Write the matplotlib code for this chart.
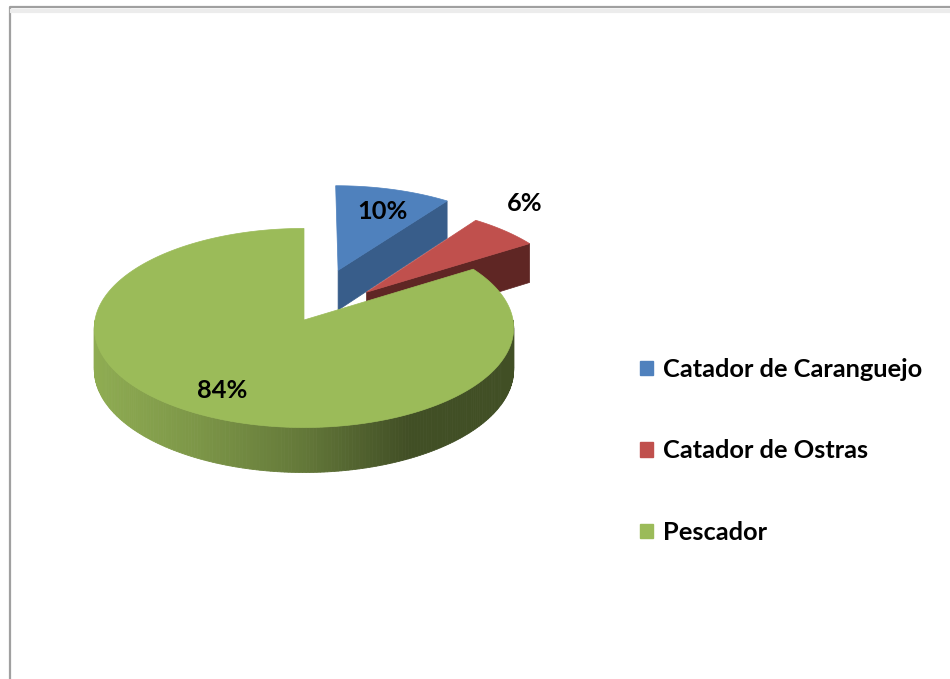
import numpy as np
import matplotlib
matplotlib.use("Agg")
import matplotlib.pyplot as plt
from matplotlib.patches import Polygon, Patch
from matplotlib.lines import Line2D
from matplotlib.colors import to_rgb

# ---- data ----
categories = ["Catador de Caranguejo", "Catador de Ostras", "Pescador"]
values = [10, 6, 84]

# ---- style ----
top_colors = ["#4f81bd", "#c0504d", "#9bbb59"]
face_colors = ["#385d8a", "#5f2624", "#4a5c2b"]
explode = [0.55, 0.42, 0.0]
label_radius = [0.72, 1.0, 0.77]
label_offset = [(4, 0), (20, -27), (0, 0)]

W, H = 950, 679
fig = plt.figure(figsize=(9.5, 6.79), dpi=100)
ax = fig.add_axes([0, 0, 1, 1])
ax.set_xlim(0, W)
ax.set_ylim(H, 0)
ax.axis("off")

CX, CY, RA, RB, DEPTH, PERSP = 304, 320, 209, 98.9, 41.4, 0.08
FONT = "Lato"
FS = 18.3


def proj(X, Y, z):
    s = 1.0 / (1.0 + PERSP * Y)
    return CX + RA * X * s, CY - RB * Y * s + DEPTH * z * s


def shade(rgb, f):
    return tuple(min(1, c * f) for c in rgb)


def wall_factor(u):
    return np.interp(u, [0.0, 0.25, 0.5, 0.75, 1.0], [0.92, 0.80, 0.64, 0.42, 0.42])


vals = np.array(values, dtype=float)
frac = vals / vals.sum()
t_edges = np.concatenate([[0], np.cumsum(frac)]) * 2 * np.pi
mids = (t_edges[:-1] + t_edges[1:]) / 2
order = np.argsort(-np.cos(mids))  # back slices first

for i in order:
    t0, t1, m = t_edges[i], t_edges[i + 1], mids[i]
    ox, oy = explode[i] * np.sin(m), explode[i] * np.cos(m)
    top_rgb = to_rgb(top_colors[i])
    n = max(8, int(400 * frac[i]))
    ts = np.linspace(t0, t1, n)
    rimX, rimY = ox + np.sin(ts), oy + np.cos(ts)
    # radial cut faces
    for t, vis in ((t1, np.sin(t1) > 1e-6), (t0, np.sin(t0) < -1e-6)):
        if vis:
            rx, ry = ox + np.sin(t), oy + np.cos(t)
            pts = [proj(ox, oy, 0), proj(rx, ry, 0), proj(rx, ry, 1), proj(ox, oy, 1)]
            ax.add_patch(Polygon(pts, closed=True, facecolor=face_colors[i],
                                 edgecolor=face_colors[i], lw=0.5))
    # outer wall (front part)
    xl = proj(-1 + ox, oy, 0)[0]
    xr = proj(1 + ox, oy, 0)[0]
    for j in range(n - 1):
        if np.cos((ts[j] + ts[j + 1]) / 2) < 0:
            a = proj(rimX[j], rimY[j], 0)
            b = proj(rimX[j + 1], rimY[j + 1], 0)
            c = proj(rimX[j + 1], rimY[j + 1], 1)
            d = proj(rimX[j], rimY[j], 1)
            u = ((a[0] + b[0]) / 2 - xl) / (xr - xl)
            col = shade(top_rgb, wall_factor(u))
            ax.add_patch(Polygon([a, b, c, d], closed=True, facecolor=col,
                                 edgecolor=col, lw=0.6))
    # top face
    pts = [proj(ox, oy, 0)] + [proj(x, y, 0) for x, y in zip(rimX, rimY)]
    ax.add_patch(Polygon(pts, closed=True, facecolor=top_colors[i],
                         edgecolor=top_colors[i], lw=0.5))

# labels
for i in range(len(values)):
    r = explode[i] + label_radius[i]
    px, py = proj(r * np.sin(mids[i]), r * np.cos(mids[i]), 0)
    ax.text(px + label_offset[i][0], py + label_offset[i][1],
            f"{round(frac[i] * 100)}%", ha="center", va="center",
            fontsize=FS, fontweight="bold", family=FONT, color="black")

# legend
handles = [Patch(facecolor=c, edgecolor=c) for c in top_colors]
fig.legend(handles, categories, loc="center left",
           bbox_to_anchor=(640 / W, 1 - 451 / H), frameon=False,
           prop={"family": FONT, "weight": "bold", "size": FS},
           handlelength=0.5, handleheight=0.5, handletextpad=0.4,
           labelspacing=2.3, borderpad=0, borderaxespad=0)

# chart-area border
fig.add_artist(Line2D([10 / W, 10 / W, 1], [0, 1 - 7 / H, 1 - 7 / H],
                      color="#a0a0a0", lw=1.6, transform=fig.transFigure))
fig.add_artist(Line2D([12 / W, 1], [1 - 11 / H, 1 - 11 / H],
                      color="#ececec", lw=3, transform=fig.transFigure))

fig.savefig("out.png", dpi=100)
